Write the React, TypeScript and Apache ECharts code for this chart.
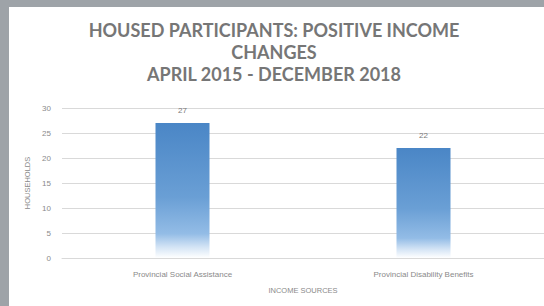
import React, { useEffect, useRef } from "react";
import * as echarts from "echarts";

const categories = ["Provincial Social Assistance", "Provincial Disability Benefits"];
const households = [27, 22];
const titleLines = ["HOUSED PARTICIPANTS: POSITIVE INCOME", "CHANGES", "APRIL 2015 - DECEMBER 2018"];

export default function App() {
  const ref = useRef<HTMLDivElement>(null);
  useEffect(() => {
    const chart = echarts.init(ref.current!, null, { renderer: "svg" });
    chart.setOption({
      animation: false,
      backgroundColor: "#ffffff",
      title: {
        text: titleLines.join("\n"),
        left: 269,
        textAlign: "center",
        top: 14,
        textStyle: {
          fontFamily: "Lato",
          fontWeight: "bold",
          fontSize: 18,
          lineHeight: 22,
          color: "#767676",
        },
      },
      graphic: [
        { type: "rect", shape: { x: 0, y: 0, width: 544, height: 7 }, style: { fill: "#9ea3a8" } },
        { type: "rect", shape: { x: 0, y: 0, width: 9, height: 306 }, style: { fill: "#9ea3a8" } },
      ],
      grid: { left: 62, top: 108, width: 484, bottom: 48, containLabel: false },
      xAxis: {
        type: "category",
        data: categories,
        name: "INCOME SOURCES",
        nameLocation: "middle",
        nameGap: 28,
        nameTextStyle: { fontFamily: "Liberation Sans", fontSize: 7.5, color: "#8a8a8a" },
        axisLine: { lineStyle: { color: "#d9d9d9" } },
        axisTick: { show: false },
        axisLabel: { fontFamily: "Liberation Sans", fontSize: 8, color: "#8a8a8a", margin: 12 },
      },
      yAxis: {
        type: "value",
        min: 0,
        max: 30,
        interval: 5,
        name: "HOUSEHOLDS",
        nameLocation: "middle",
        nameGap: 30,
        nameRotate: 90,
        nameTextStyle: { fontFamily: "Liberation Sans", fontSize: 7.5, color: "#8a8a8a" },
        axisLine: { show: false },
        axisTick: { show: false },
        axisLabel: { fontFamily: "Liberation Sans", fontSize: 8, color: "#8a8a8a", margin: 11 },
        splitLine: { lineStyle: { color: "#d9d9d9", width: 1 } },
      },
      series: [
        {
          type: "bar",
          data: households,
          barWidth: 54,
          label: {
            show: true,
            position: "top",
            distance: 9,
            fontFamily: "Liberation Sans",
            fontSize: 8,
            color: "#7a7a7a",
          },
          itemStyle: {
            color: new echarts.graphic.LinearGradient(0, 0, 0, 1, [
              { offset: 0, color: "#4a86c6" },
              { offset: 0.55, color: "#6a9fd5" },
              { offset: 0.82, color: "#93bce6" },
              { offset: 0.92, color: "#d4e4f5" },
              { offset: 1, color: "#ffffff" },
            ]),
          },
        },
      ],
    });
    return () => chart.dispose();
  }, []);
  return (
    <div style={{ position: "absolute", left: 0, top: 0, width: 544, height: 306 }}>
      <div ref={ref} style={{ width: 544, height: 306 }} />
    </div>
  );
}
